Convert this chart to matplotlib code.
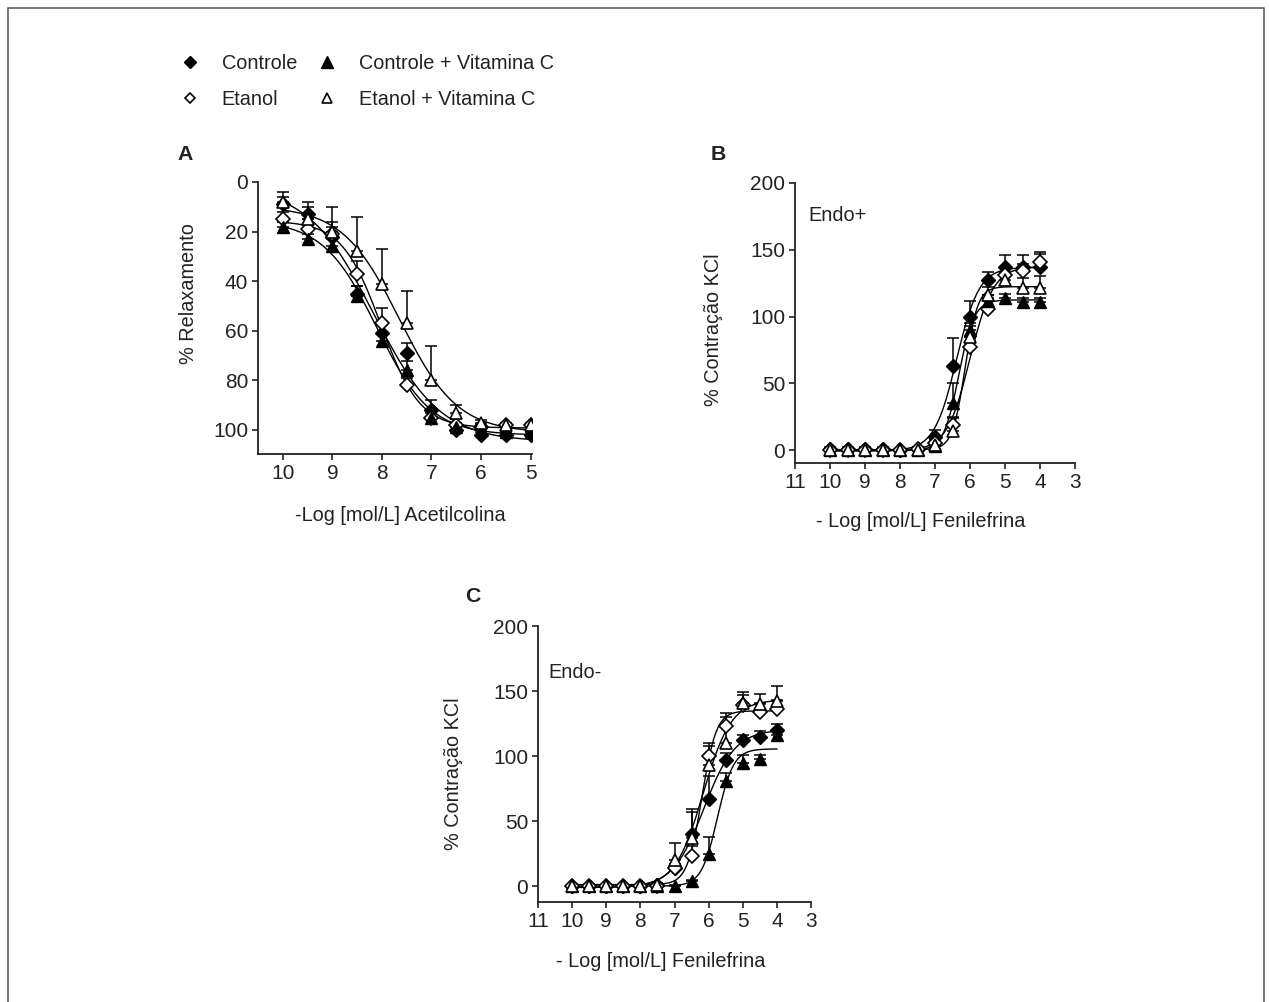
import numpy as np
import matplotlib
matplotlib.use("Agg")
import matplotlib.pyplot as plt
from matplotlib.lines import Line2D
from matplotlib.patches import Rectangle
from matplotlib import font_manager

# ---------------- data ----------------
labels = ["Controle", "Etanol", "Controle + Vitamina C", "Etanol + Vitamina C"]

# Panel A: relaxation to acetylcholine
xA = [10, 9.5, 9, 8.5, 8, 7.5, 7, 6.5, 6, 5.5, 5]
A_ctrl = [9, 13, 22, 45, 61, 69, 92, 100, 102, 102, 102]
A_et = [15, 19, 21, 37, 57, 82, 95, 98, 99, 98, 98]
A_ctrl_vc = [18, 23, 26, 46, 64, 76, 95, 99, 100, 101, 101]
A_et_vc = [8, 15, 20, 28, 41, 57, 80, 93, 97, 98, 98]
A_err_ctrl = [3, 5, 4, 3, 4, 4, 4, 1, 1, 1, 1]
A_err_et = [3, 4, 5, 5, 6, 3, 2, 1, 1, 1, 1]
A_err_ctrl_vc = [2, 2, 3, 4, 3, 4, 3, 1, 1, 1, 1]
A_err_et_vc = [4, 5, 10, 14, 14, 13, 14, 3, 1, 1, 1]

# Panel B: phenylephrine, Endo+
xB = [10, 9.5, 9, 8.5, 8, 7.5, 7, 6.5, 6, 5.5, 5, 4.5, 4]
B_ctrl = [1, 1, 1, 1, 0, 1, 10, 63, 100, 127, 137, 137, 137]
B_et = [0, 0, 0, 0, 0, 1, 5, 19, 77, 106, 131, 134, 141]
B_ctrl_vc = [0, 0, 0, 0, 0, 0, 3, 35, 90, 112, 114, 111, 111]
B_et_vc = [0, 0, 0, 0, 0, 0, 4, 14, 85, 116, 127, 121, 121]
B_err_ctrl = [1, 1, 1, 1, 1, 1, 5, 21, 12, 6, 9, 9, 11]
B_err_et = [1, 1, 1, 1, 1, 1, 3, 6, 8, 8, 6, 5, 6]
B_err_ctrl_vc = [1, 1, 1, 1, 1, 1, 3, 15, 5, 4, 3, 3, 3]
B_err_et_vc = [1, 1, 1, 1, 1, 1, 3, 10, 8, 6, 6, 8, 9]

# Panel C: phenylephrine, Endo-
xC = [10, 9.5, 9, 8.5, 8, 7.5, 7, 6.5, 6, 5.5, 5, 4.5, 4]
C_ctrl = [0, 0, 0, 0, 0, 1, 14, 40, 67, 97, 112, 115, 120]
C_et = [0, 0, 0, 0, 0, 0, 14, 23, 100, 123, 139, 134, 136]
C_ctrl_vc = [0, 0, 0, 0, 0, 0, 0, 4, 25, 81, 95, 98, 116]
C_et_vc = [0, 0, 0, 0, 0, 1, 20, 37, 93, 110, 141, 140, 142]
C_err_ctrl = [1, 1, 1, 1, 1, 1, 3, 19, 18, 5, 4, 4, 5]
C_err_et = [1, 1, 1, 1, 1, 1, 3, 8, 10, 10, 8, 7, 7]
C_err_ctrl_vc = [1, 1, 1, 1, 1, 1, 1, 1, 13, 6, 6, 3, 4]
C_err_et_vc = [1, 1, 1, 1, 1, 1, 13, 20, 15, 20, 8, 8, 12]

A_ticks_y = [0, 20, 40, 60, 80, 100]
A_ticks_x = [10, 9, 8, 7, 6, 5]
BC_ticks_y = [0, 50, 100, 150, 200]
BC_ticks_x = [11, 10, 9, 8, 7, 6, 5, 4, 3]

# ---------------- style ----------------
names = {f.name for f in font_manager.fontManager.ttflist}
fam = ["Liberation Sans Narrow", "Liberation Sans", "DejaVu Sans"]
fam = [f for f in fam if f in names] or ["DejaVu Sans"]
plt.rcParams["font.family"] = fam
INK = "#222222"
plt.rcParams["text.color"] = INK
plt.rcParams["axes.labelcolor"] = INK
FS = 14.3

styles = [
    dict(marker="D", mfc="black", mec="black", ms=7.5),
    dict(marker="D", mfc="white", mec="black", ms=7.5, mew=1.2),
    dict(marker="^", mfc="black", mec="black", ms=8.5),
    dict(marker="^", mfc="white", mec="black", ms=8.5, mew=1.2),
]
legend_ms = [6, 5.5, 8, 6.5]


def fit_logistic(x, y):
    x = np.asarray(x, float)
    y = np.asarray(y, float)
    L = -x
    best = None
    for c in np.arange(-10.5, -3.5, 0.02):
        for h in np.arange(0.3, 3.0, 0.05):
            s = 1.0 / (1.0 + 10 ** ((c - L) * h))
            M = np.vstack([np.ones_like(s), s]).T
            coef, *_ = np.linalg.lstsq(M, y, rcond=None)
            r = np.sum((M @ coef - y) ** 2)
            if best is None or r < best[0]:
                best = (r, c, h, coef)
    _, c, h, coef = best
    xs = np.linspace(x.min(), x.max(), 200)
    s = 1.0 / (1.0 + 10 ** ((c - (-xs)) * h))
    return xs, coef[0] + coef[1] * s


W, H = 1269, 1002
fig = plt.figure(figsize=(W / 100, H / 100), dpi=100)


def box(l, t, r, b):
    return [l / W, 1 - b / H, (r - l) / W, (b - t) / H]


def style_axes(ax):
    for s in ["top", "right"]:
        ax.spines[s].set_visible(False)
    for s in ["left", "bottom"]:
        ax.spines[s].set_linewidth(1.3)
        ax.spines[s].set_color(INK)
    ax.tick_params(direction="out", length=4, width=1.2, colors=INK,
                   labelsize=FS + 0.7, pad=3)


def draw_panel(ax, x, series, errs, inverted=False):
    handles = []
    for y, e, st in zip(series, errs, styles):
        xs, ys = fit_logistic(x, y)
        ax.plot(xs, ys, color="black", lw=1.0, zorder=2)
        e = np.asarray(e, float)
        z = np.zeros_like(e)
        yerr = [e, z] if inverted else [z, e]
        ax.errorbar(x, y, yerr=yerr, fmt="none", ecolor="black",
                    elinewidth=1.1, capsize=4.5, capthick=1.1, zorder=3)
        h, = ax.plot(x, y, linestyle="none", zorder=4, **st)
        handles.append(h)
    return handles


# Panel A
axA = fig.add_axes(box(258, 182, 532, 454))
style_axes(axA)
draw_panel(axA, xA, [A_ctrl, A_et, A_ctrl_vc, A_et_vc],
           [A_err_ctrl, A_err_et, A_err_ctrl_vc, A_err_et_vc], inverted=True)
axA.set_xlim(10.5, 4.97)
axA.set_ylim(109.7, 0)
axA.set_xticks(A_ticks_x)
axA.set_yticks(A_ticks_y)
axA.set_ylabel("% Relaxamento", fontsize=FS)
axA.yaxis.set_label_coords(-0.219, 0.59)
axA.set_xlabel("-Log [mol/L] Acetilcolina", fontsize=FS)
axA.xaxis.set_label_coords(0.52, -0.191)

# Panel B
axB = fig.add_axes(box(795, 183, 1075, 463))
style_axes(axB)
draw_panel(axB, xB, [B_ctrl, B_et, B_ctrl_vc, B_et_vc],
           [B_err_ctrl, B_err_et, B_err_ctrl_vc, B_err_et_vc])
axB.set_xlim(11, 3)
axB.set_ylim(-9.7, 200)
axB.set_xticks(BC_ticks_x)
axB.set_yticks(BC_ticks_y)
axB.set_ylabel("% Contração KCl", fontsize=FS)
axB.yaxis.set_label_coords(-0.257, 0.475)
axB.set_xlabel("- Log [mol/L] Fenilefrina", fontsize=FS)
axB.xaxis.set_label_coords(0.45, -0.175)
axB.text(0.046, 0.885, "Endo+", transform=axB.transAxes, fontsize=FS,
         ha="left", va="center")

# Panel C
axC = fig.add_axes(box(538, 626, 811, 902))
style_axes(axC)
draw_panel(axC, xC, [C_ctrl, C_et, C_ctrl_vc, C_et_vc],
           [C_err_ctrl, C_err_et, C_err_ctrl_vc, C_err_et_vc])
axC.set_xlim(11, 3)
axC.set_ylim(-12.3, 200)
axC.set_xticks(BC_ticks_x)
axC.set_yticks(BC_ticks_y)
axC.set_ylabel("% Contração KCl", fontsize=FS)
axC.yaxis.set_label_coords(-0.275, 0.464)
axC.set_xlabel("- Log [mol/L] Fenilefrina", fontsize=FS)
axC.xaxis.set_label_coords(0.45, -0.181)
axC.text(0.037, 0.83, "Endo-", transform=axC.transAxes, fontsize=FS,
         ha="left", va="center")

# panel letters
for lab, (px, py) in zip(["A", "B", "C"], [(185, 155), (718, 155), (473, 597)]):
    fig.text(px / W, 1 - py / H, lab, fontsize=FS + 1, fontweight="bold",
             ha="center", va="center", family=["Liberation Sans", "DejaVu Sans"])

# legend
leg_handles = [Line2D([], [], linestyle="none", **st) for st in styles]
for lh, ms in zip(leg_handles, legend_ms):
    lh.set_markersize(ms)
fig.legend(leg_handles, labels, ncol=2, loc="upper left",
           bbox_to_anchor=(180 / W, 1 - 54 / H), frameon=False, fontsize=FS,
           handlelength=1.0, handletextpad=1.1, columnspacing=1.0,
           labelspacing=0.84, borderpad=0, borderaxespad=0)

# outer frame
fig.add_artist(Rectangle((8 / W, -0.02), (1264 - 8) / W, 1.02 - 8 / H,
                         transform=fig.transFigure, fill=False,
                         ec="#555555", lw=1.1))

fig.savefig("out.png", dpi=100, facecolor="white")
